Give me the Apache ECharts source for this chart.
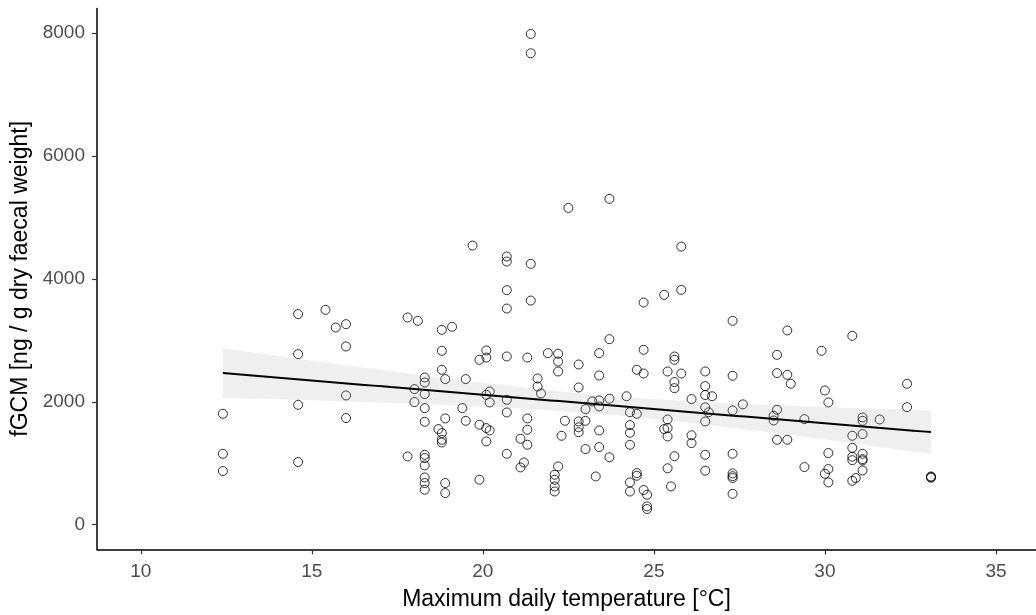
<!DOCTYPE html>
<html>
<head>
<meta charset="utf-8">
<title>fGCM vs maximum daily temperature</title>
<script src="https://cdn.jsdelivr.net/npm/echarts@6.0.0/dist/echarts.min.js"></script>
<style>
  html, body { margin: 0; padding: 0; background: #ffffff; }
  #chart { width: 1036px; height: 615px; }
</style>
</head>
<body>
<div id="chart"></div>
<script>
// Maximum daily temperature (°C) of each sampling day
const tempLevels = [
  12.4, 14.6, 15.4, 15.7, 16.0, 17.8, 18.0, 18.1, 18.3, 18.7, 18.8, 18.9,
  19.1, 19.4, 19.5, 19.7, 19.9, 20.1, 20.2, 20.7, 21.1, 21.2, 21.3, 21.4,
  21.6, 21.7, 21.9, 22.1, 22.2, 22.3, 22.4, 22.5, 22.8, 23.0, 23.2, 23.3,
  23.4, 23.7, 24.2, 24.3, 24.5, 24.7, 24.8, 25.3, 25.4, 25.5, 25.6, 25.8,
  26.1, 26.5, 26.6, 26.7, 27.3, 27.6, 28.5, 28.6, 28.9, 29.0, 29.4, 29.9,
  30.0, 30.1, 30.8, 30.9, 31.1, 31.6, 32.4, 33.1
];

// fGCM samples (ng / g dry faecal weight) collected at each temperature above
const fgcmByTemp = [
  [1805, 1154, 873],
  [3426, 2775, 1951, 1020],
  [3496],
  [3208],
  [3263, 2900, 2103, 1735],
  [3371, 1111],
  [2206, 1995],
  [3317],
  [2395, 2314, 2125, 1897, 1675, 1138, 1084, 964, 769, 678, 569],
  [1556],
  [3171, 2829, 2520, 1491, 1382, 1338],
  [2369, 1729, 678, 515],
  [3220],
  [1897],
  [2369, 1691],
  [4542],
  [2683, 1626, 732],
  [2835, 2720, 2114, 1572, 1355],
  [2168, 1989, 1534],
  [4363, 4282, 3816, 3517, 2737, 2033, 1826, 1154],
  [1398, 932],
  [1013],
  [2720, 1729, 1545, 1301],
  [7984, 7670, 4244, 3647],
  [2379, 2249],
  [2135],
  [2791],
  [813, 732, 623, 541],
  [2781, 2655, 2493, 948],
  [1447],
  [1691],
  [5154],
  [2607, 2233, 1680, 1585, 1505],
  [1881, 1691, 1231],
  [2006],
  [785],
  [2791, 2428, 2022, 1924, 1534, 1263],
  [5301, 3019, 2050, 1098],
  [2090],
  [1830, 1620, 1496, 1301, 688, 540],
  [2520, 1805, 840, 797],
  [3615, 2846, 2460, 565],
  [488, 298, 255],
  [3740, 1556],
  [2493, 1712, 1572, 1436, 918],
  [623],
  [2737, 2683, 2320, 2222, 1115],
  [4525, 3821, 2460],
  [2044, 1455, 1328],
  [2493, 2255, 2110, 1910, 1680, 1138, 880],
  [1830],
  [2090],
  [3317, 2423, 1859, 1154, 835, 790, 760, 502],
  [1958],
  [1772, 1696],
  [2764, 2467, 1870, 1382],
  [3160, 2439, 1382],
  [2293],
  [1718, 938],
  [2829],
  [2184, 829],
  [1989, 1166, 906, 688],
  [3073, 1447, 1250, 1106, 1050, 715],
  [759],
  [1745, 1690, 1475, 1154, 1068, 1046, 883],
  [1712],
  [2293, 1913],
  [775, 765, 785]
];

// Axis tick labels
const xTicks = [10, 15, 20, 25, 30, 35];
const yTicks = [0, 2000, 4000, 6000, 8000];

// Flatten into [temperature, fgcm] pairs
const points = [];
tempLevels.forEach(function (t, i) {
  fgcmByTemp[i].forEach(function (v) { points.push([t, v]); });
});

// Ordinary least squares fit with a 95% confidence band
const T_975 = 1.97;
function linearFit(pts) {
  const n = pts.length;
  let sx = 0, sy = 0;
  pts.forEach(function (p) { sx += p[0]; sy += p[1]; });
  const mx = sx / n, my = sy / n;
  let sxx = 0, sxy = 0;
  pts.forEach(function (p) { sxx += (p[0] - mx) * (p[0] - mx); sxy += (p[0] - mx) * (p[1] - my); });
  const slope = sxy / sxx;
  const intercept = my - slope * mx;
  let sse = 0;
  pts.forEach(function (p) { const r = p[1] - (intercept + slope * p[0]); sse += r * r; });
  const s = Math.sqrt(sse / (n - 2));
  return { n: n, mx: mx, sxx: sxx, slope: slope, intercept: intercept, s: s };
}
const fit = linearFit(points);
const xLo = Math.min.apply(null, tempLevels);
const xHi = Math.max.apply(null, tempLevels);
const fitLine = [], bandUpper = [], bandLower = [];
const STEPS = 80;
for (let k = 0; k <= STEPS; k++) {
  const x = xLo + (xHi - xLo) * k / STEPS;
  const yhat = fit.intercept + fit.slope * x;
  const se = fit.s * Math.sqrt(1 / fit.n + (x - fit.mx) * (x - fit.mx) / fit.sxx);
  fitLine.push([x, yhat]);
  bandUpper.push([x, yhat + T_975 * se]);
  bandLower.push([x, yhat - T_975 * se]);
}

const chart = echarts.init(document.getElementById('chart'), null, { renderer: 'canvas' });
const textFont = '"Liberation Sans", Arial, sans-serif';

chart.setOption({
  animation: false,
  backgroundColor: '#ffffff',
  grid: { left: 97, right: 0, top: 8.4, bottom: 65.7, containLabel: false, outerBoundsMode: 'none' },
  xAxis: {
    type: 'value',
    min: 8.72,
    max: 36.17,
    name: 'Maximum daily temperature [°C]',
    nameLocation: 'middle',
    nameGap: 39,
    nameTextStyle: { color: '#000000', fontSize: 23, fontFamily: textFont },
    axisLine: { onZero: false, lineStyle: { color: '#000000', width: 1.5 } },
    axisTick: { show: true, length: 5, customValues: xTicks, lineStyle: { color: '#333333', width: 1.2 } },
    axisLabel: { customValues: xTicks, color: '#4d4d4d', fontSize: 19, fontFamily: textFont, margin: 13 },
    splitLine: { show: false }
  },
  yAxis: {
    type: 'value',
    min: -400,
    max: 8400,
    name: 'fGCM [ng / g dry faecal weight]',
    nameLocation: 'middle',
    nameGap: 65,
    nameTextStyle: { color: '#000000', fontSize: 23, fontFamily: textFont },
    axisLine: { onZero: false, lineStyle: { color: '#000000', width: 1.5 } },
    axisTick: { show: true, length: 5, customValues: yTicks, lineStyle: { color: '#333333', width: 1.2 } },
    axisLabel: {
      customValues: yTicks, color: '#4d4d4d', fontSize: 19, fontFamily: textFont, margin: 12,
      formatter: function (v) { return String(v); }
    },
    splitLine: { show: false }
  },
  series: [
    {
      name: 'samples',
      type: 'scatter',
      data: points,
      symbol: 'circle',
      symbolSize: 9,
      itemStyle: { color: 'rgba(0,0,0,0)', borderColor: '#000000', borderWidth: 1 },
      z: 2
    },
    {
      name: 'confidence band',
      type: 'custom',
      data: [0],
      renderItem: function (params, api) {
        const poly = bandUpper.map(function (p) { return api.coord(p); })
          .concat(bandLower.slice().reverse().map(function (p) { return api.coord(p); }));
        return {
          type: 'polygon',
          shape: { points: poly },
          style: { fill: 'rgba(153,153,153,0.16)', stroke: null }
        };
      },
      silent: true,
      z: 3
    },
    {
      name: 'linear fit',
      type: 'line',
      data: fitLine,
      showSymbol: false,
      lineStyle: { color: '#000000', width: 2 },
      silent: true,
      z: 4
    }
  ]
});
</script>
</body>
</html>
